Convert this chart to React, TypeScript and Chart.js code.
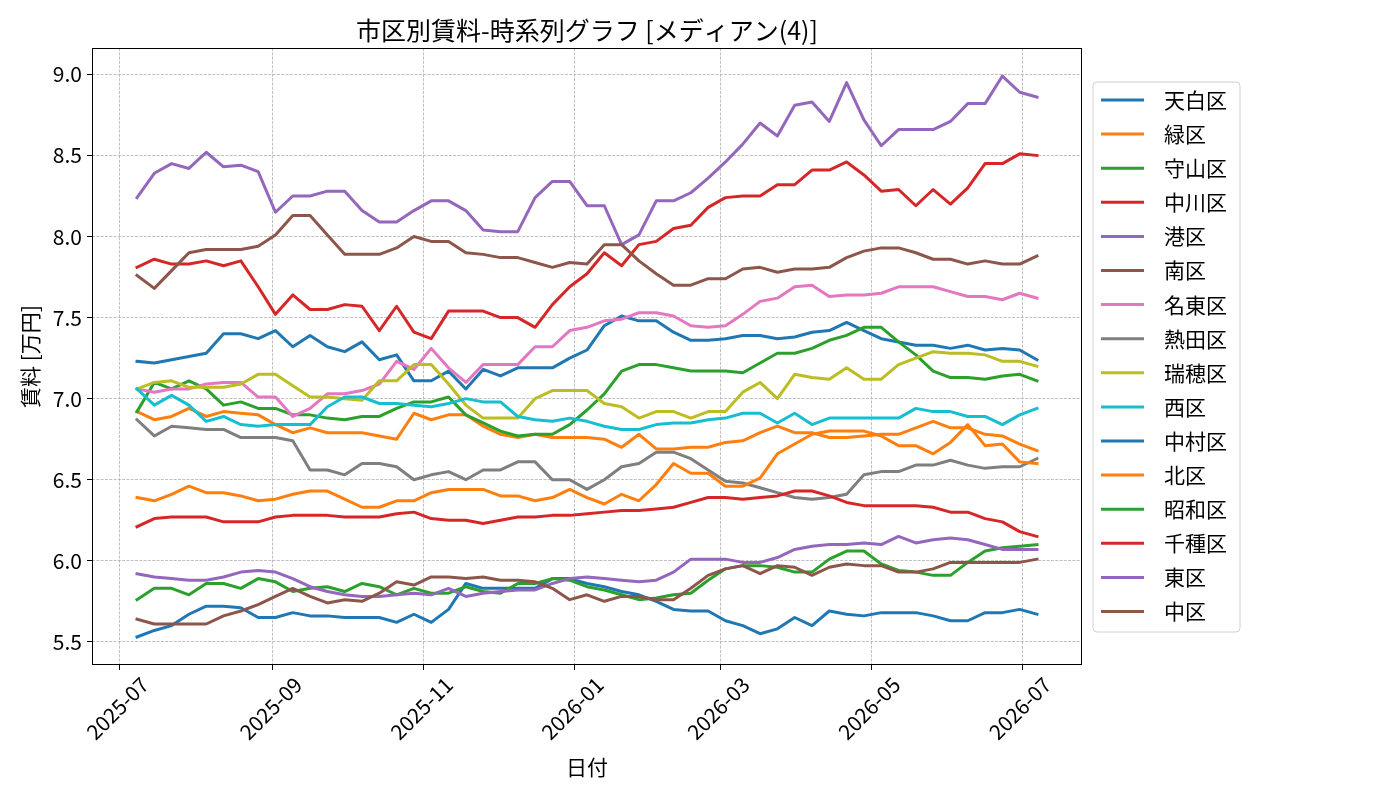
import React, { useEffect, useRef } from "react";
import { Chart, registerables } from "chart.js";

Chart.register(...registerables);

const TITLE = "市区別賃料-時系列グラフ [メディアン(4)]";
const X_LABEL = "日付";
const Y_LABEL = "賃料 [万円]";

// weekly observation dates (2025-07-08 .. 2026-07-07)
const START_DATE = "2025-07-08";
const WEEKS = 53;
const MONTH_TICKS = ["2025-07", "2025-09", "2025-11", "2026-01", "2026-03", "2026-05", "2026-07"];
const Y_TICKS = [5.5, 6.0, 6.5, 7.0, 7.5, 8.0, 8.5, 9.0];

const NAMES = ["天白区", "緑区", "守山区", "中川区", "港区", "南区", "名東区", "熱田区", "瑞穂区", "西区", "中村区", "北区", "昭和区", "千種区", "東区", "中区"];
const COLORS = ["#1f77b4", "#ff7f0e", "#2ca02c", "#d62728", "#9467bd", "#8c564b", "#e377c2", "#7f7f7f", "#bcbd22", "#17becf", "#1f77b4", "#ff7f0e", "#2ca02c", "#d62728", "#9467bd", "#8c564b"];

const tenpaku = [7.23,7.22,7.24,7.26,7.28,7.40,7.40,7.37,7.42,7.32,7.39,7.32,7.29,7.35,7.24,7.27,7.11,7.11,7.17,7.06,7.18,7.14,7.19,7.19,7.19,7.25,7.30,7.45,7.51,7.48,7.48,7.41,7.36,7.36,7.37,7.39,7.39,7.37,7.38,7.41,7.42,7.47,7.42,7.37,7.35,7.33,7.33,7.31,7.33,7.30,7.31,7.30,7.24];
const midori = [6.92,6.87,6.89,6.94,6.89,6.92,6.91,6.90,6.84,6.79,6.82,6.79,6.79,6.79,6.77,6.75,6.91,6.87,6.90,6.90,6.83,6.78,6.76,6.78,6.76,6.76,6.76,6.75,6.70,6.78,6.69,6.69,6.70,6.70,6.73,6.74,6.79,6.83,6.79,6.79,6.76,6.76,6.77,6.78,6.78,6.82,6.86,6.82,6.82,6.78,6.77,6.72,6.68];
const moriyama = [6.92,7.10,7.06,7.11,7.06,6.96,6.98,6.94,6.94,6.90,6.90,6.88,6.87,6.89,6.89,6.94,6.98,6.98,7.01,6.90,6.85,6.80,6.77,6.78,6.78,6.84,6.93,7.03,7.17,7.21,7.21,7.19,7.17,7.17,7.17,7.16,7.22,7.28,7.28,7.31,7.36,7.39,7.44,7.44,7.35,7.27,7.17,7.13,7.13,7.12,7.14,7.15,7.11];
const nakagawa = [7.81,7.86,7.83,7.83,7.85,7.82,7.85,7.69,7.52,7.64,7.55,7.55,7.58,7.57,7.42,7.57,7.41,7.37,7.54,7.54,7.54,7.50,7.50,7.44,7.58,7.69,7.77,7.90,7.82,7.95,7.97,8.05,8.07,8.18,8.24,8.25,8.25,8.32,8.32,8.41,8.41,8.46,8.38,8.28,8.29,8.19,8.29,8.20,8.30,8.45,8.45,8.51,8.50];
const minato = [8.24,8.39,8.45,8.42,8.52,8.43,8.44,8.40,8.15,8.25,8.25,8.28,8.28,8.16,8.09,8.09,8.16,8.22,8.22,8.16,8.04,8.03,8.03,8.24,8.34,8.34,8.19,8.19,7.95,8.01,8.22,8.22,8.27,8.36,8.46,8.57,8.70,8.62,8.81,8.83,8.71,8.95,8.72,8.56,8.66,8.66,8.66,8.71,8.82,8.82,8.99,8.89,8.86];
const minami = [7.76,7.68,7.79,7.90,7.92,7.92,7.92,7.94,8.01,8.13,8.13,8.01,7.89,7.89,7.89,7.93,8.00,7.97,7.97,7.90,7.89,7.87,7.87,7.84,7.81,7.84,7.83,7.95,7.95,7.85,7.77,7.70,7.70,7.74,7.74,7.80,7.81,7.78,7.80,7.80,7.81,7.87,7.91,7.93,7.93,7.90,7.86,7.86,7.83,7.85,7.83,7.83,7.88];
const meito = [7.06,7.04,7.06,7.06,7.09,7.10,7.10,7.01,7.01,6.89,6.94,7.03,7.03,7.05,7.09,7.23,7.18,7.31,7.19,7.10,7.21,7.21,7.21,7.32,7.32,7.42,7.44,7.48,7.49,7.53,7.53,7.51,7.45,7.44,7.45,7.52,7.60,7.62,7.69,7.70,7.63,7.64,7.64,7.65,7.69,7.69,7.69,7.66,7.63,7.63,7.61,7.65,7.62];
const atsuta = [6.87,6.77,6.83,6.82,6.81,6.81,6.76,6.76,6.76,6.74,6.56,6.56,6.53,6.60,6.60,6.58,6.50,6.53,6.55,6.50,6.56,6.56,6.61,6.61,6.50,6.50,6.44,6.50,6.58,6.60,6.67,6.67,6.63,6.56,6.49,6.48,6.45,6.42,6.39,6.38,6.39,6.41,6.53,6.55,6.55,6.59,6.59,6.62,6.59,6.57,6.58,6.58,6.63];
const mizuho = [7.06,7.10,7.11,7.07,7.07,7.07,7.09,7.15,7.15,7.08,7.01,7.01,7.00,6.99,7.11,7.11,7.21,7.21,7.09,6.96,6.88,6.88,6.88,7.00,7.05,7.05,7.05,6.97,6.95,6.88,6.92,6.92,6.88,6.92,6.92,7.04,7.10,7.00,7.15,7.13,7.12,7.19,7.12,7.12,7.21,7.25,7.29,7.28,7.28,7.27,7.23,7.23,7.20];
const nishi = [7.06,6.96,7.02,6.96,6.86,6.89,6.84,6.83,6.84,6.84,6.84,6.95,7.01,7.01,6.97,6.97,6.96,6.95,6.97,7.00,6.98,6.98,6.89,6.87,6.86,6.88,6.86,6.83,6.81,6.81,6.84,6.85,6.85,6.87,6.88,6.91,6.91,6.85,6.91,6.84,6.88,6.88,6.88,6.88,6.88,6.94,6.92,6.92,6.89,6.89,6.84,6.90,6.94];
const nakamura = [5.53,5.57,5.60,5.67,5.72,5.72,5.71,5.65,5.65,5.68,5.66,5.66,5.65,5.65,5.65,5.62,5.67,5.62,5.70,5.86,5.83,5.83,5.83,5.83,5.89,5.89,5.86,5.84,5.81,5.79,5.75,5.70,5.69,5.69,5.63,5.60,5.55,5.58,5.65,5.60,5.69,5.67,5.66,5.68,5.68,5.68,5.66,5.63,5.63,5.68,5.68,5.70,5.67];
const kita = [6.39,6.37,6.41,6.46,6.42,6.42,6.40,6.37,6.38,6.41,6.43,6.43,6.38,6.33,6.33,6.37,6.37,6.42,6.44,6.44,6.44,6.40,6.40,6.37,6.39,6.44,6.39,6.35,6.41,6.37,6.47,6.60,6.54,6.54,6.46,6.46,6.51,6.66,6.72,6.78,6.80,6.80,6.80,6.77,6.71,6.71,6.66,6.73,6.84,6.71,6.72,6.61,6.60];
const showa = [5.76,5.83,5.83,5.79,5.86,5.86,5.83,5.89,5.87,5.81,5.83,5.84,5.81,5.86,5.84,5.79,5.83,5.80,5.80,5.84,5.81,5.80,5.86,5.86,5.89,5.88,5.84,5.82,5.79,5.76,5.77,5.79,5.80,5.88,5.95,5.97,5.97,5.96,5.93,5.93,6.01,6.06,6.06,5.98,5.94,5.93,5.91,5.91,5.99,6.06,6.08,6.09,6.10];
const chikusa = [6.21,6.26,6.27,6.27,6.27,6.24,6.24,6.24,6.27,6.28,6.28,6.28,6.27,6.27,6.27,6.29,6.30,6.26,6.25,6.25,6.23,6.25,6.27,6.27,6.28,6.28,6.29,6.30,6.31,6.31,6.32,6.33,6.36,6.39,6.39,6.38,6.39,6.40,6.43,6.43,6.40,6.36,6.34,6.34,6.34,6.34,6.33,6.30,6.30,6.26,6.24,6.18,6.15];
const higashi = [5.92,5.90,5.89,5.88,5.88,5.90,5.93,5.94,5.93,5.89,5.84,5.81,5.79,5.78,5.78,5.79,5.80,5.79,5.83,5.78,5.80,5.81,5.82,5.82,5.86,5.89,5.90,5.89,5.88,5.87,5.88,5.93,6.01,6.01,6.01,5.99,5.99,6.02,6.07,6.09,6.10,6.10,6.11,6.10,6.15,6.11,6.13,6.14,6.13,6.10,6.07,6.07,6.07];
const naka = [5.64,5.61,5.61,5.61,5.61,5.66,5.69,5.73,5.78,5.83,5.78,5.74,5.76,5.75,5.80,5.87,5.85,5.90,5.90,5.89,5.90,5.88,5.88,5.87,5.83,5.76,5.79,5.75,5.78,5.78,5.76,5.76,5.83,5.91,5.95,5.97,5.92,5.97,5.96,5.91,5.96,5.98,5.97,5.97,5.93,5.93,5.95,5.99,5.99,5.99,5.99,5.99,6.01];

const SERIES = [tenpaku, midori, moriyama, nakagawa, minato, minami, meito, atsuta, mizuho, nishi, nakamura, kita, showa, chikusa, higashi, naka];

const FONT = "'Noto Sans CJK JP', 'Noto Sans', sans-serif";
const DAY = 86400000;

function parseDay(s: string): number {
  const [y, m, d] = s.split("-").map(Number);
  return Date.UTC(y, m - 1, d || 1);
}

export default function App() {
  const ref = useRef<HTMLCanvasElement | null>(null);

  useEffect(() => {
    const canvas = ref.current;
    if (!canvas) return;

    const start = parseDay(START_DATE);
    const dates = Array.from({ length: WEEKS }, (_, i) => start + i * 7 * DAY);
    const xSpan = dates[WEEKS - 1] - dates[0];
    const xMin = dates[0] - 0.05 * xSpan;
    const xMax = dates[WEEKS - 1] + 0.05 * xSpan;
    const all = SERIES.flat();
    const dMin = Math.min(...all);
    const dMax = Math.max(...all);
    const yMin = dMin - 0.05 * (dMax - dMin);
    const yMax = dMax + 0.05 * (dMax - dMin);
    const monthVals = MONTH_TICKS.map(parseDay);

    const deco = {
      id: "deco",
      beforeDraw(chart: any) {
        const { ctx } = chart;
        ctx.save();
        ctx.fillStyle = "#ffffff";
        ctx.fillRect(0, 0, chart.width, chart.height);
        ctx.restore();
      },
      afterDraw(chart: any) {
        const { ctx, chartArea: a } = chart;
        ctx.save();
        // frame
        ctx.strokeStyle = "#000";
        ctx.lineWidth = 1;
        ctx.setLineDash([]);
        ctx.strokeRect(a.left + 0.5, a.top + 0.5, a.right - a.left - 1, a.bottom - a.top - 1);
        // title
        ctx.fillStyle = "#000";
        ctx.font = `25px ${FONT}`;
        ctx.textAlign = "center";
        ctx.textBaseline = "middle";
        ctx.fillText(TITLE, (a.left + a.right) / 2, 30);
        // legend
        const bx = 1093, by = 82, bw = 147, bh = 550, r = 4;
        ctx.beginPath();
        ctx.moveTo(bx + r, by);
        ctx.lineTo(bx + bw - r, by);
        ctx.quadraticCurveTo(bx + bw, by, bx + bw, by + r);
        ctx.lineTo(bx + bw, by + bh - r);
        ctx.quadraticCurveTo(bx + bw, by + bh, bx + bw - r, by + bh);
        ctx.lineTo(bx + r, by + bh);
        ctx.quadraticCurveTo(bx, by + bh, bx, by + bh - r);
        ctx.lineTo(bx, by + r);
        ctx.quadraticCurveTo(bx, by, bx + r, by);
        ctx.closePath();
        ctx.fillStyle = "rgba(255,255,255,0.8)";
        ctx.fill();
        ctx.strokeStyle = "#d0d0d0";
        ctx.lineWidth = 1;
        ctx.stroke();
        ctx.font = `21px ${FONT}`;
        ctx.textAlign = "left";
        ctx.textBaseline = "middle";
        NAMES.forEach((name, i) => {
          const y = 100 + i * 34.1;
          ctx.strokeStyle = COLORS[i];
          ctx.lineWidth = 3;
          ctx.lineCap = "butt";
          ctx.beginPath();
          ctx.moveTo(1101, y);
          ctx.lineTo(1144, y);
          ctx.stroke();
          ctx.fillStyle = "#000";
          ctx.fillText(name, 1164, y);
        });
        ctx.restore();
      },
    };

    const datasets = SERIES.map((vals, i) => ({
      label: NAMES[i],
      data: vals.map((v, j) => ({ x: dates[j], y: v })),
      borderColor: COLORS[i],
      backgroundColor: COLORS[i],
      borderWidth: 3,
      pointRadius: 0,
      tension: 0,
      fill: false,
      borderJoinStyle: "round" as const,
      borderCapStyle: "square" as const,
      order: -i,
    }));

    const fmt = (v: number) => {
      const d = new Date(v);
      return `${d.getUTCFullYear()}-${String(d.getUTCMonth() + 1).padStart(2, "0")}`;
    };

    const chart = new Chart(canvas, {
      type: "line",
      data: { datasets },
      options: {
        responsive: false,
        animation: false,
        devicePixelRatio: 1,
        layout: { padding: { top: 48, right: 318, left: 0, bottom: 0 } },
        plugins: {
          legend: { display: false },
          title: { display: false },
          tooltip: { enabled: false },
        },
        scales: {
          x: {
            type: "linear",
            min: xMin,
            max: xMax,
            afterBuildTicks: (s: any) => {
              s.ticks = monthVals.map((v) => ({ value: v }));
            },
            afterFit: (s: any) => {
              s.height = 135;
            },
            ticks: {
              autoSkip: false,
              minRotation: 45,
              maxRotation: 45,
              labelOffset: 25,
              padding: 2,
              color: "#000",
              font: { family: FONT, size: 21 },
              callback: (v: any) => fmt(Number(v)),
            },
            grid: {
              color: "#b0b0b0",
              lineWidth: 0.8,
              tickLength: 5,
              tickColor: "#000",
              tickWidth: 1,
              tickBorderDash: [],
            },
            border: { display: false, dash: [3, 1.3] },
            title: {
              display: true,
              text: X_LABEL,
              color: "#000",
              font: { family: FONT, size: 21 },
              padding: { top: 0, bottom: 20 },
            },
          },
          y: {
            type: "linear",
            min: yMin,
            max: yMax,
            afterBuildTicks: (s: any) => {
              s.ticks = Y_TICKS.map((v) => ({ value: v }));
            },
            afterFit: (s: any) => {
              s.width = 92;
            },
            ticks: {
              padding: 5,
              color: "#000",
              font: { family: FONT, size: 21 },
              callback: (v: any) => Number(v).toFixed(1),
            },
            grid: {
              color: "#b0b0b0",
              lineWidth: 0.8,
              tickLength: 5,
              tickColor: "#000",
              tickWidth: 1,
              tickBorderDash: [],
            },
            border: { display: false, dash: [3, 1.3] },
            title: {
              display: true,
              text: Y_LABEL,
              color: "#000",
              font: { family: FONT, size: 21 },
              padding: { top: 17, bottom: 0 },
            },
          },
        },
      },
      plugins: [deco],
    } as any);

    return () => chart.destroy();
  }, []);

  return (
    <div style={{ position: "fixed", left: 0, top: 0, width: 1400, height: 800, background: "#fff" }}>
      <canvas ref={ref} width={1400} height={800} style={{ width: 1400, height: 800, display: "block" }} />
    </div>
  );
}
